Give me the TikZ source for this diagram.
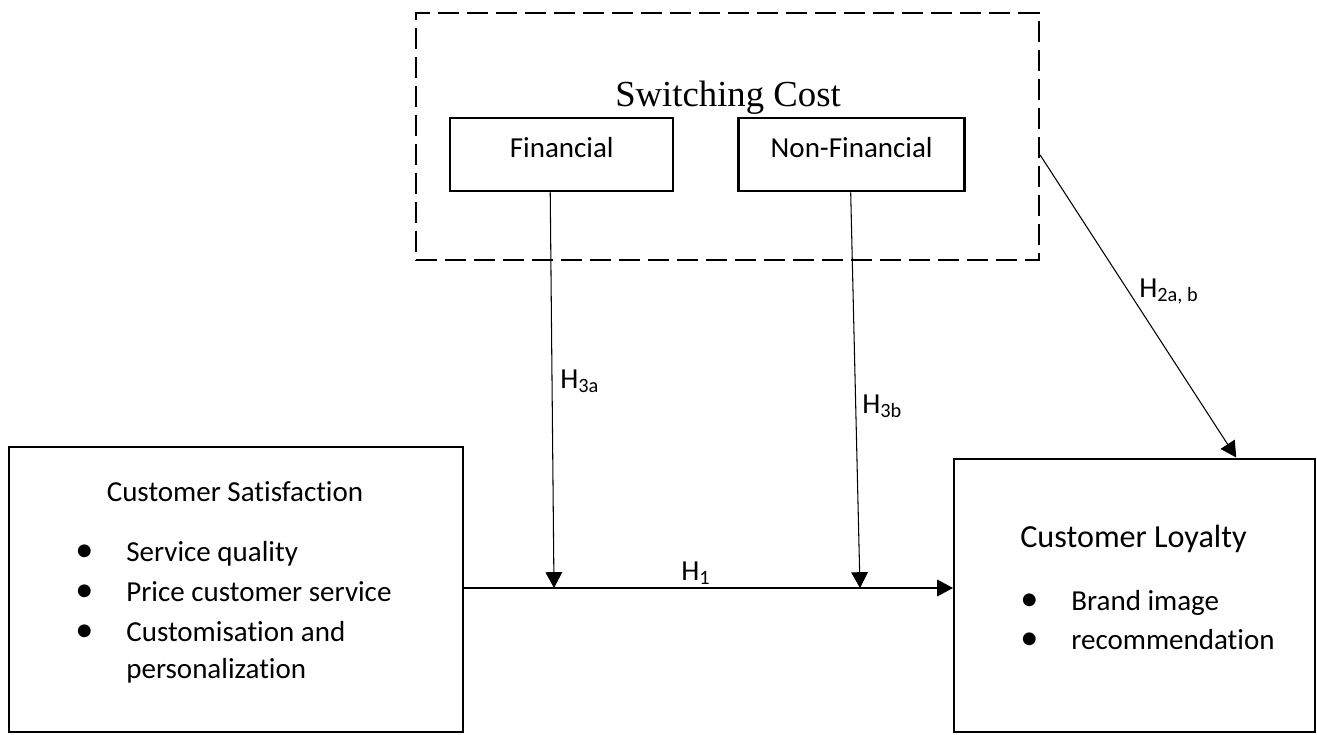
\documentclass[tikz,border=0pt]{standalone}
\usepackage{fontspec}
\setmainfont{Carlito}[Ligatures=CommonOff]
\newfontfamily\costfont{Liberation Serif}
\usetikzlibrary{positioning,arrows.meta}
\tikzstyle{sbox}=[rectangle, draw=black, line width=1.4pt, inner sep=0pt
, minimum width=4.46cm, text height=22.4pt, text depth=19.1pt]
\tikzstyle{mbox}=[rectangle, draw=black, line width=1.4pt, inner sep=0pt, anchor=south west]
\tikzstyle{dbox}=[rectangle, draw=black, line width=1.3pt, dash pattern=on 12pt off 4.5pt, inner sep=0pt]
\tikzstyle{ttl}=[anchor=base, inner sep=0pt]
\tikzstyle{blist}=[anchor=base west, inner sep=0pt]
\tikzstyle{hlab}=[anchor=base west, inner sep=0pt]
\tikzstyle{pline}=[-{Triangle[length=9pt,width=9.5pt]}, line width=0.6pt]
\newcommand{\hyplab}[1]{H\textsubscript{#1}}
\newcommand{\blt}{\makebox[1.68cm][c]{\scalebox{1.25}{\textbullet}}}

\begin{document}
\begin{tikzpicture}[font=\fontsize{16.5}{22.8}\selectfont]
\useasboundingbox (0,0) rectangle (26.34,14.68);

% switching cost
    \node (sc) [dbox, minimum width=12.46cm, minimum height=4.94cm] at (14.55,11.95) {};
    \node (sct) [ttl] at (14.56,12.54) {\costfont\fontsize{20.9}{24}\selectfont Switching Cost};
    \node (fin) [sbox, anchor=north west] at (8.98,12.34) {Financial};
    \node (nfin) [sbox, minimum width=4.52cm, right=1.26cm of fin] {Non-Financial};

% satisfaction and loyalty
    \node (cs) [mbox, minimum width=9.08cm, minimum height=5.70cm] at (0.16,0.02) {};
    \node (cst) [ttl] at (4.7,4.66) {Customer Satisfaction};
    \node (csl) [blist] at (0.84,3.46)
	{\begin{tabular}[t]{@{}l@{}l@{}}
	\blt & Service quality\\
	\blt & Price customer service\\
	\blt & Customisation and\\[-1.7pt]
	     & personalization
	\end{tabular}};

    \node (cl) [mbox, minimum width=7.22cm, minimum height=5.46cm] at (19.06,0.02) {};
    \node (clt) [ttl] at (22.67,3.74) {\fontsize{18.3}{22}\selectfont Customer Loyalty};
    \node (cll) [blist] at (19.74,2.48)
	{\begin{tabular}[t]{@{}l@{}l@{}}
	\blt & Brand image\\[-0.6pt]
	\blt & recommendation
	\end{tabular}};

% lines
    \coordinate (finin) at (11.08,2.92);
    \coordinate (nfinin) at (17.2,2.92);

   \draw[pline] (cs.east |- finin) -- (cl.west |- finin);
   \draw[pline] ([xshift=-0.23cm]fin.south) -- (finin);
   \draw[pline] ([xshift=-0.02cm]nfin.south) -- (nfinin);
   \draw[pline] ([yshift=-0.37cm]sc.east) -- ([xshift=2.03cm]cl.north);

% labels
    \node (h1) [hlab] at (13.62,3.08) {\hyplab{1}};
    \node (h3a) [hlab] at (11.2,6.92) {\hyplab{3a}};
    \node (h3b) [hlab] at (17.24,6.42) {\hyplab{3b}};
    \node (h2) [hlab] at (22.78,8.74) {\hyplab{2a, b}};
\end{tikzpicture}
\end{document}
